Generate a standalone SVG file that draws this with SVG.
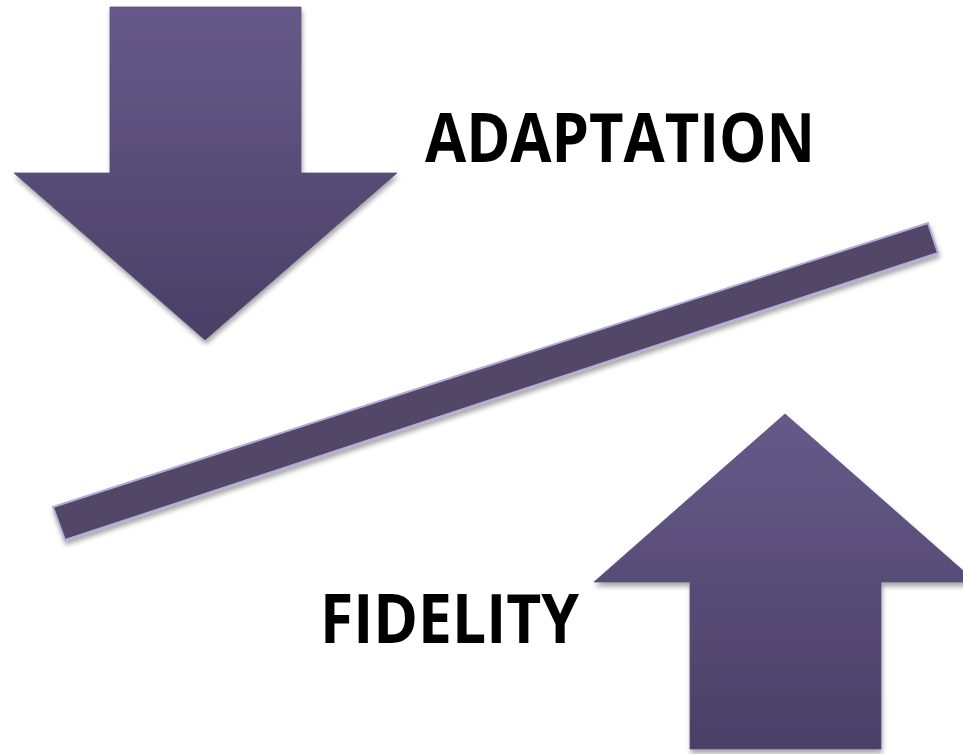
<svg xmlns="http://www.w3.org/2000/svg" width="963" height="754" viewBox="0 0 963 754">
  <defs>
    <linearGradient id="gDown" x1="0" y1="0" x2="0" y2="1">
      <stop offset="0" stop-color="#665a8a"/>
      <stop offset="1" stop-color="#4a3f66"/>
    </linearGradient>
    <linearGradient id="gUp" x1="0" y1="0" x2="0" y2="1">
      <stop offset="0" stop-color="#665a8a"/>
      <stop offset="1" stop-color="#4a3f66"/>
    </linearGradient>
    <filter id="shadow" x="-10%" y="-10%" width="120%" height="130%">
      <feGaussianBlur in="SourceAlpha" stdDeviation="2.5"/>
      <feOffset dx="1" dy="4" result="b"/>
      <feComponentTransfer><feFuncA type="linear" slope="0.35"/></feComponentTransfer>
      <feMerge><feMergeNode/><feMergeNode in="SourceGraphic"/></feMerge>
    </filter>
  </defs>
  <style>
    .arrow { stroke: #5a4f78; stroke-width: 0.8; filter: url(#shadow); }
    .bar { fill: #524668; stroke: #b4abd6; stroke-width: 2; filter: url(#shadow); }
    .label { font-family: "Open Sans", "Noto Sans", "Liberation Sans", sans-serif; font-weight: bold; font-size: 68px; fill: #000000; }
  </style>
  <rect width="963" height="754" fill="#ffffff"/>
  <g id="connectors">
    <polygon class="bar" points="53,507 928,223 938,253 65,540"/>
  </g>
  <g id="down-arrow">
    <polygon class="arrow" fill="url(#gDown)" points="110,7 301,7 301,173 397,173 205,340 14,173 110,173"/>
  </g>
  <g id="up-arrow">
    <polygon class="arrow" fill="url(#gUp)" points="785,414 976,582 881,582 881,749 690,749 690,582 594,582"/>
  </g>
  <g id="adaptation">
    <text class="label" x="425" y="162" textLength="390" lengthAdjust="spacingAndGlyphs">ADAPTATION</text>
  </g>
  <g id="fidelity">
    <text class="label" x="320" y="643" textLength="259" lengthAdjust="spacingAndGlyphs">FIDELITY</text>
  </g>
</svg>
